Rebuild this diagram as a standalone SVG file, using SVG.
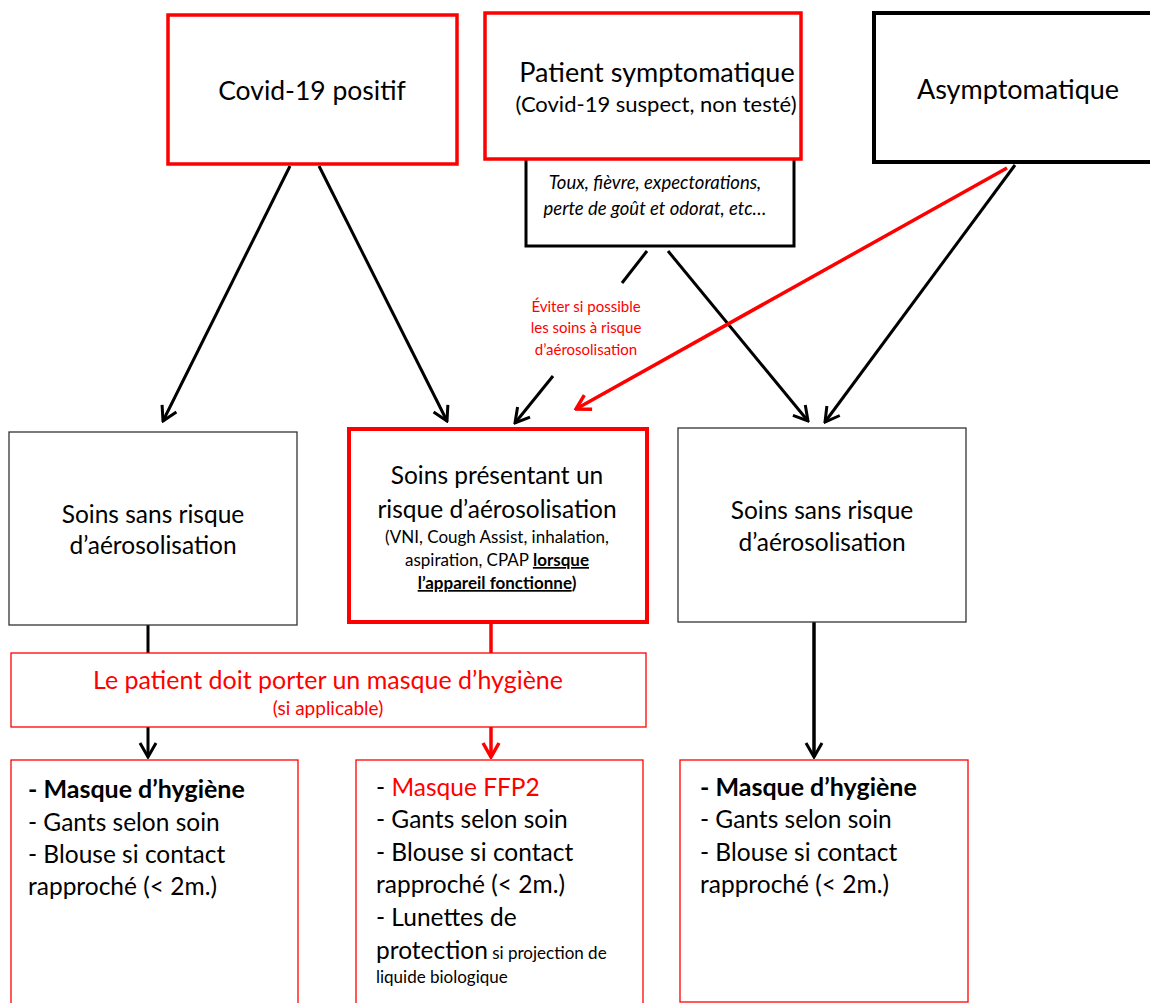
<svg xmlns="http://www.w3.org/2000/svg" width="1150" height="1003" viewBox="0 0 1150 1003">
<style>
text{font-family:Lato,"Open Sans","Liberation Sans",sans-serif;fill:#000}
.red{fill:#ff0000}
.c{text-anchor:middle}
.big{font-size:27px}
.med{font-size:24.5px}
.sm{font-size:18.5px}
.xs{font-size:15px}
.b{font-weight:bold}
.i{font-style:italic}
.u{text-decoration:underline}
.ln{fill:none;stroke:#000;stroke-width:3}
.lr{fill:none;stroke:#ff0000;stroke-width:3.5}
</style>
<defs>
<marker id="ab" viewBox="-16 -10 18 20" markerWidth="18" markerHeight="20" refX="0" refY="0" orient="auto" markerUnits="userSpaceOnUse">
<path d="M-14,-8 L0,0 L-14,8" fill="none" stroke="#000" stroke-width="3"/>
</marker>
<marker id="ar" viewBox="-16 -10 18 20" markerWidth="18" markerHeight="20" refX="0" refY="0" orient="auto" markerUnits="userSpaceOnUse">
<path d="M-14,-8 L0,0 L-14,8" fill="none" stroke="#ff0000" stroke-width="3.5"/>
</marker>
</defs>
<rect width="1150" height="1003" fill="#fff"/>

<g id="connectors">
<line class="ln" x1="290" y1="166" x2="163" y2="421" marker-end="url(#ab)"/>
<line class="ln" x1="319" y1="166" x2="447" y2="421" marker-end="url(#ab)"/>
<line class="ln" x1="647" y1="251" x2="622" y2="283"/>
<line class="ln" x1="553" y1="376" x2="515" y2="423" marker-end="url(#ab)"/>
<line class="ln" x1="668" y1="251" x2="808" y2="421" marker-end="url(#ab)"/>
<line class="ln" x1="1015" y1="165" x2="825" y2="422" marker-end="url(#ab)"/>
<line class="lr" x1="1007" y1="168" x2="576" y2="409" marker-end="url(#ar)"/>
<line class="ln" x1="148" y1="625" x2="148" y2="653"/>
<line class="lr" x1="491" y1="622" x2="491" y2="653"/>
<line class="ln" x1="148" y1="727" x2="148" y2="757" marker-end="url(#ab)"/>
<line class="lr" x1="491" y1="727" x2="491" y2="757" marker-end="url(#ar)"/>
<line class="ln" x1="814" y1="622" x2="814" y2="757" style="stroke-width:3.5" marker-end="url(#ab)"/>
</g>

<g id="label-eviter">
<text class="red xs c" x="586" y="312">Éviter si possible</text>
<text class="red xs c" x="586" y="333">les soins à risque</text>
<text class="red xs c" x="586" y="355">d’aérosolisation</text>
</g>

<g id="covid-positif">
<rect x="168" y="15" width="289" height="149" fill="#fff" stroke="#ff0000" stroke-width="3.5"/>
<text class="big c" x="312" y="100" style="font-size:26.5px">Covid-19 positif</text>
</g>

<g id="symptomes">
<rect x="526" y="150" width="268" height="96" fill="#fff" stroke="#000" stroke-width="3"/>
<text class="sm i c" x="655" y="189">Toux, fièvre, expectorations,</text>
<text class="sm i c" x="655" y="215">perte de goût et odorat, etc…</text>
</g>

<g id="patient-symptomatique">
<rect x="485" y="13" width="316" height="146" fill="#fff" stroke="#ff0000" stroke-width="3.5"/>
<text class="big c" x="657" y="82">Patient symptomatique</text>
<text class="c" x="656" y="112" style="font-size:22px">(Covid-19 suspect, non testé)</text>
</g>

<g id="asymptomatique">
<rect x="874" y="13" width="290" height="149" fill="#fff" stroke="#000" stroke-width="4"/>
<text class="big c" x="1018" y="99">Asymptomatique</text>
</g>

<g id="soins-sans-risque-1">
<rect x="9" y="432" width="288" height="193" fill="#fff" stroke="#333" stroke-width="1.3"/>
<text class="med c" x="153" y="523">Soins sans risque</text>
<text class="med c" x="153" y="554">d’aérosolisation</text>
</g>

<g id="soins-risque">
<rect x="349" y="429" width="298" height="193" fill="#fff" stroke="#ff0000" stroke-width="4"/>
<text class="med c" x="497" y="484">Soins présentant un</text>
<text class="med c" x="497" y="518">risque d’aérosolisation</text>
<text class="c" x="497" y="543" style="font-size:17px">(VNI, Cough Assist, inhalation,</text>
<text class="c" x="497" y="566" style="font-size:17px">aspiration, CPAP <tspan class="b u">lorsque</tspan></text>
<text class="c" x="497" y="589" style="font-size:17px"><tspan class="b u">l’appareil fonctionne</tspan><tspan class="b">)</tspan></text>
</g>

<g id="soins-sans-risque-2">
<rect x="678" y="428" width="288" height="194" fill="#fff" stroke="#333" stroke-width="1.3"/>
<text class="med c" x="822" y="519">Soins sans risque</text>
<text class="med c" x="822" y="551">d’aérosolisation</text>
</g>

<g id="masque-patient">
<rect x="11" y="653" width="635" height="74" fill="#fff" stroke="#ff0000" stroke-width="1.3"/>
<text class="red c" x="328" y="689" style="font-size:25px">Le patient doit porter un masque d’hygiène</text>
<text class="red c" x="328" y="715" style="font-size:19px">(si applicable)</text>
</g>

<g id="protection-1">
<rect x="11" y="760" width="287" height="250" fill="#fff" stroke="#ff0000" stroke-width="1.3"/>
<text class="b" x="28" y="798" style="font-size:25px">- Masque d’hygiène</text>
<text class="med" x="28" y="831">- Gants selon soin</text>
<text class="med" x="28" y="863">- Blouse si contact</text>
<text class="med" x="28" y="895">rapproché (&lt; 2m.)</text>
</g>

<g id="protection-2">
<rect x="356" y="760" width="287" height="250" fill="#fff" stroke="#ff0000" stroke-width="1.3"/>
<text class="med" x="376" y="796">- <tspan class="red">Masque FFP2</tspan></text>
<text class="med" x="376" y="828">- Gants selon soin</text>
<text class="med" x="376" y="861">- Blouse si contact</text>
<text class="med" x="376" y="893">rapproché (&lt; 2m.)</text>
<text class="med" x="376" y="926">- Lunettes de</text>
<text class="med" x="376" y="959">protection<tspan style="font-size:17px"> si projection de</tspan></text>
<text x="376" y="983" style="font-size:17px">liquide biologique</text>
</g>

<g id="protection-3">
<rect x="680" y="760" width="288" height="242" fill="#fff" stroke="#ff0000" stroke-width="1.3"/>
<text class="b" x="700" y="796" style="font-size:25px">- Masque d’hygiène</text>
<text class="med" x="700" y="828">- Gants selon soin</text>
<text class="med" x="700" y="861">- Blouse si contact</text>
<text class="med" x="700" y="893">rapproché (&lt; 2m.)</text>
</g>
</svg>
